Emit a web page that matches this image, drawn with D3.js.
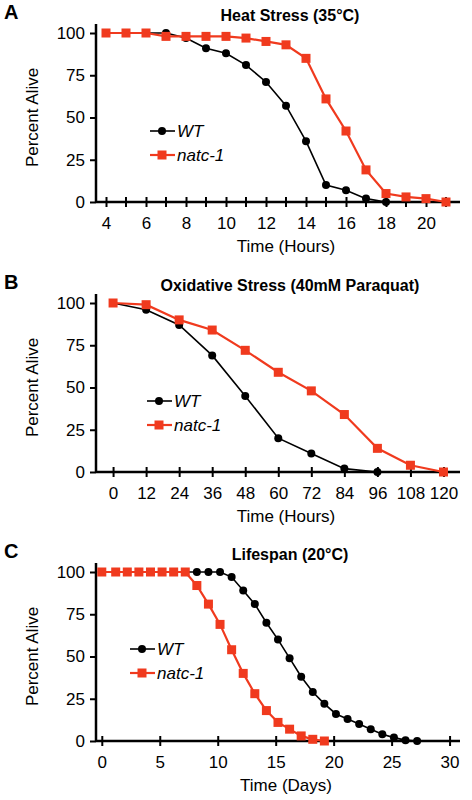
<!DOCTYPE html>
<html><head><meta charset="utf-8">
<script src="https://cdn.jsdelivr.net/npm/d3@7"></script>
<style>body{margin:0;background:#fff}text{font-family:"Liberation Sans",Arial,sans-serif}</style>
</head><body>
<svg id="fig" width="472" height="800"></svg>
<script>
// Panel A: heat stress
var heatHours = [4,5,6,7,8,9,10,11,12,13,14,15,16,17,18,19,20,21];
var heatWT    = [100,100,100,100,97,91,88,81,71,57,36,10,7,2,0];
var heatNatc  = [100,100,100,98,98,98,98,97,95,93,85,61,42,19,5,3,2,0];
var heatTicks = [4,6,8,10,12,14,16,18,20];

// Panel B: oxidative stress
var oxHours = [0,12,24,36,48,60,72,84,96,108,120];
var oxWT    = [100,96,87,69,45,20,11,2,0];
var oxNatc  = [100,99,90,84,72,59,48,34,14,4,0];
var oxTicks = [0,12,24,36,48,60,72,84,96,108,120];

// Panel C: lifespan
var lifeDays = [0,1.2,2.2,3.2,4.2,5.2,6.2,7.2,8.2,9.2,10.2,11.2,12.2,13.2,14.2,15.2,16.2,17.2,18.2,19.2,20.2,21.2,22.2,23.2,24.2,25.2,26.2,27.2];
var lifeWT   = [100,100,100,100,100,100,100,100,100,100,100,97,89,81,70,60,49,38,29,22,16,13,10,7,4,2,0.5,0];
var lifeNatc = [100,100,100,100,100,100,100,100,92,81,69,54,40,28,18,11,7,3,1,0];
var lifeTicks = [0,5,10,15,20,25,30];

var yTicks = [0,25,50,75,100];
var svg = d3.select("#fig");

var panels = [
  {letter:"A", title:"Heat Stress (35\u00B0C)", top:33, x:heatHours, wt:heatWT, natc:heatNatc, ticks:heatTicks,
   dom:[3.5,21.7], xl:"Time (Hours)", leg:[150,131]},
  {letter:"B", title:"Oxidative Stress (40mM Paraquat)", top:303, x:oxHours, wt:oxWT, natc:oxNatc, ticks:oxTicks,
   dom:[-6.2,126], xl:"Time (Hours)", leg:[147,401]},
  {letter:"C", title:"Lifespan (20\u00B0C)", top:572, x:lifeDays, wt:lifeWT, natc:lifeNatc, ticks:lifeTicks,
   dom:[-0.5,30.9], xl:"Time (Days)", leg:[130,649]}
];

panels.forEach(function(p){
  var left = 96, right = 460, h = 169;
  var g = svg.append("g").attr("transform","translate(0,"+p.top+")");
  var x = d3.scaleLinear().domain(p.dom).range([left,right]);
  var y = d3.scaleLinear().domain([0,100]).range([h,0]);

  g.append("text").attr("x",4).attr("y",-14).style("font-weight","bold").style("font-size","20px").text(p.letter);
  g.append("text").attr("x",(left+right)/2+12).attr("y",-12).attr("text-anchor","middle")
    .style("font-weight","bold").style("font-size","16px").text(p.title);

  // y axis
  var ya = g.append("g").attr("transform","translate("+left+",0)")
    .call(d3.axisLeft(y).tickValues(yTicks).tickSize(6).tickPadding(5));
  ya.select(".domain").attr("stroke-width",2.5).attr("d","M0,"+(y(100)-9)+"V"+h);
  ya.selectAll(".tick line").attr("stroke-width",2);
  ya.selectAll("text").style("font-size","17px");

  // x axis: ticks cross the line
  var xa = g.append("g").attr("transform","translate(0,"+h+")")
    .call(d3.axisBottom(x).tickValues(p.ticks).tickSize(5).tickPadding(10));
  xa.select(".domain").attr("stroke-width",2.5).attr("d","M"+left+",0H"+right);
  xa.selectAll(".tick line").attr("y1",-5).attr("stroke-width",2);
  xa.selectAll("text").style("font-size","17px");
  if (p.letter==="A") {
    xa.selectAll(".minor").data(heatHours.filter(function(d){return d%2;}).concat([21])).enter()
      .append("line").attr("x1",function(d){return x(d);}).attr("x2",function(d){return x(d);})
      .attr("y1",-5).attr("y2",5).attr("stroke","#000").attr("stroke-width",2);
  }
  g.append("text").attr("x",(left+right)/2+8).attr("y",h+50).attr("text-anchor","middle")
    .style("font-size","17px").text(p.xl);
  g.append("text").attr("transform","translate(38,"+(h/2)+") rotate(-90)").attr("text-anchor","middle")
    .style("font-size","17px").text("Percent Alive");

  var line = d3.line().x(function(d){return x(d[0]);}).y(function(d){return y(d[1]);});
  var wt = p.wt.map(function(v,i){return [p.x[i],v];});
  var nc = p.natc.map(function(v,i){return [p.x[i],v];});

  g.append("path").datum(wt).attr("d",line).attr("fill","none").attr("stroke","#000").attr("stroke-width",1.6);
  g.selectAll(".wt").data(wt).enter().append("circle")
    .attr("cx",function(d){return x(d[0]);}).attr("cy",function(d){return y(d[1]);}).attr("r",4).attr("fill","#000");
  g.append("path").datum(nc).attr("d",line).attr("fill","none").attr("stroke","#f03a1e").attr("stroke-width",2.2);
  g.selectAll(".nc").data(nc).enter().append("rect")
    .attr("x",function(d){return x(d[0])-4.5;}).attr("y",function(d){return y(d[1])-4.5;})
    .attr("width",9).attr("height",9).attr("fill","#f03a1e");

  // legend
  var lx = p.leg[0], ly = p.leg[1]-p.top;
  g.append("line").attr("x1",lx).attr("x2",lx+25).attr("y1",ly).attr("y2",ly).attr("stroke","#000").attr("stroke-width",1.6);
  g.append("circle").attr("cx",lx+12).attr("cy",ly).attr("r",4).attr("fill","#000");
  g.append("text").attr("x",lx+27).attr("y",ly+6).style("font-size","17px").style("font-style","italic").text("WT");
  g.append("line").attr("x1",lx).attr("x2",lx+25).attr("y1",ly+24).attr("y2",ly+24).attr("stroke","#f03a1e").attr("stroke-width",2.2);
  g.append("rect").attr("x",lx+7.5).attr("y",ly+19.5).attr("width",9).attr("height",9).attr("fill","#f03a1e");
  g.append("text").attr("x",lx+27).attr("y",ly+30).style("font-size","17px").style("font-style","italic").text("natc-1");
});
</script>
</body></html>
